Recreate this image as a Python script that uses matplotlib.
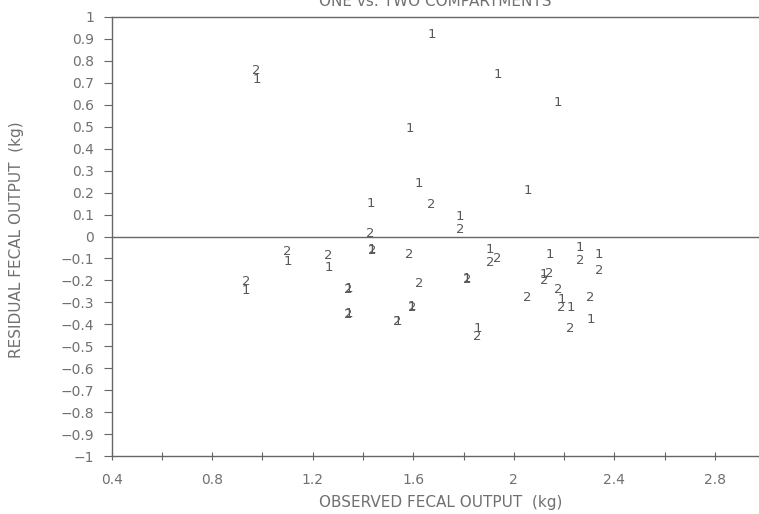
import matplotlib
matplotlib.use("Agg")
import matplotlib.pyplot as plt
from matplotlib.ticker import MultipleLocator, FuncFormatter

# Observed fecal output (kg) and residuals for the one- and two-compartment models
observed = [0.934, 0.977, 1.099, 1.262, 1.342, 1.342, 1.430, 1.435, 1.537,
            1.585, 1.596, 1.622, 1.673, 1.786, 1.815, 1.855, 1.905, 1.935,
            2.055, 2.121, 2.142, 2.176, 2.190, 2.226, 2.264, 2.306, 2.340]
resid_one = [-0.244, 0.713, -0.115, -0.141, -0.235, -0.350, 0.151, -0.058, -0.385,
             0.493, -0.320, 0.242, 0.918, 0.093, -0.192, -0.418, -0.058, 0.736,
             0.209, -0.175, -0.084, 0.610, -0.286, -0.323, -0.049, -0.380, -0.084]
resid_two = [-0.206, 0.758, -0.070, -0.088, -0.241, -0.355, 0.015, -0.062, -0.388,
             -0.084, -0.323, -0.213, 0.144, 0.030, -0.195, -0.456, -0.119, -0.099,
             -0.277, -0.201, -0.168, -0.241, -0.323, -0.418, -0.110, -0.277, -0.156]

title = "ONE vs. TWO COMPARTMENTS"
xlabel = "OBSERVED FECAL OUTPUT  (kg)"
ylabel = "RESIDUAL FECAL OUTPUT  (kg)"

TXT = "#707070"
LINE = "#666666"
MARK = "#585858"

W, H = 759, 514
fig = plt.figure(figsize=(W / 100, H / 100), dpi=100)
left, right, top, bottom = 111.7, 759.0, 17.0, 456.0
ax = fig.add_axes([left / W, 1 - bottom / H, (right - left) / W, (bottom - top) / H])

ax.set_xlim(0.4, 0.4 + (right - left) / 251.3)
ax.set_ylim(-1, 1)

for xv, yv in zip(observed, resid_one):
    ax.text(xv, yv, "1", ha="center", va="center", fontsize=9.5, color=MARK)
for xv, yv in zip(observed, resid_two):
    ax.text(xv, yv, "2", ha="center", va="center", fontsize=9.5, color=MARK)

ax.axhline(0, color=LINE, lw=1.0)

for s in ["top", "left", "bottom"]:
    ax.spines[s].set_color(LINE)
    ax.spines[s].set_linewidth(1.0)
ax.spines["right"].set_visible(False)

ax.xaxis.set_major_locator(MultipleLocator(0.4))
ax.xaxis.set_minor_locator(MultipleLocator(0.2))
ax.yaxis.set_major_locator(MultipleLocator(0.1))
fmt = FuncFormatter(lambda v, p: ("%g" % round(v, 2)).replace("-", "\u2212"))
ax.xaxis.set_major_formatter(fmt)
ax.yaxis.set_major_formatter(fmt)

ax.tick_params(axis="x", which="both", direction="inout", length=6, width=0.8,
               colors=LINE, labelcolor=TXT, labelsize=10, pad=9)
ax.tick_params(axis="y", which="major", direction="out", length=5.5, width=0.8,
               colors=LINE, labelcolor=TXT, labelsize=10, pad=7)

fig.text(441 / W, 1 - 503 / H, xlabel, ha="center", va="center", fontsize=11, color=TXT)
fig.text(17 / W, 1 - 240 / H, ylabel, ha="center", va="center", rotation=90,
         fontsize=11, color=TXT)
fig.text(435 / W, 1 - 2 / H, title, ha="center", va="center", fontsize=11, color=TXT)

fig.savefig("out.png", dpi=100)
